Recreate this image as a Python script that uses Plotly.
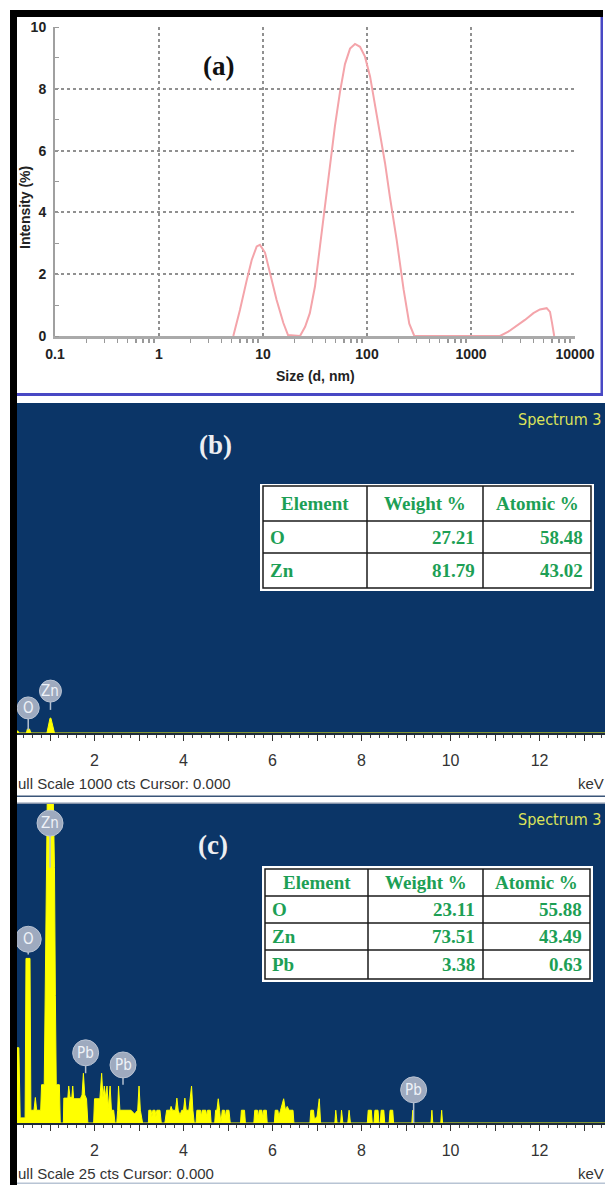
import plotly.graph_objects as go

W, H = 605, 1185

# ---------------- Panel (a): DLS size distribution ----------------
dls_size_nm = [5.18, 6.0, 6.97, 7.79, 8.7, 9.35, 10.45, 11.7, 13.5, 15.7, 17.4, 22.7,
               25.4, 28.2, 31.6, 35.3, 39.5, 44.1, 49.2, 55.0, 61.4, 68.7, 76.7, 85.7,
               95.6, 107, 119, 133, 149, 166, 193, 225, 255, 285, 1900, 2285, 2750,
               3300, 3980, 4600, 5340, 5750, 6030, 6310]
dls_intensity = [0, 0.84, 1.8, 2.46, 2.9, 2.95, 2.7, 2.04, 1.17, 0.42, 0.03, 0,
                 0.3, 0.74, 1.6, 2.9, 4.2, 5.6, 6.8, 7.9, 8.8, 9.3, 9.45, 9.36,
                 9.04, 8.4, 7.54, 6.57, 5.6, 4.5, 3.1, 1.5, 0.4, 0, 0, 0.14, 0.32,
                 0.52, 0.74, 0.86, 0.9, 0.78, 0.4, 0]
dls_xtick_vals = [0.1, 1, 10, 100, 1000, 10000]
dls_xtick_text = ["0.1", "1", "10", "100", "1000", "10000"]
dls_ytick_vals = [0, 2, 4, 6, 8, 10]

# ---------------- Panel (b): EDS spectrum, ZnO ----------------
b_kev = [0.258, 0.28, 0.30, 0.47, 0.49, 0.54, 0.57, 0.93, 1.00, 1.02, 1.10, 13.47]
b_cts = [6, 6, 0, 0, 12, 12, 0, 0, 45, 45, 0, 0]
b_badge_names = ["O", "Zn"]
b_badge_kev = [0.51, 1.01]
b_badge_cts = [76, 127]
b_stem_cts = [9, 70]
b_table_header = ["Element", "Weight %", "Atomic %"]
b_elements = ["O", "Zn"]
b_weight = ["27.21", "81.79"]
b_atomic = ["58.48", "43.02"]

# ---------------- Panel (c): EDS spectrum, Pb-doped ZnO ----------------
c_kev = [0.258, 0.30, 0.33, 0.44, 0.46, 0.55, 0.57, 0.64, 0.67, 0.70, 0.79, 0.81, 0.87,
         0.89, 0.91, 0.94, 1.07, 1.10, 1.12, 1.14, 1.21, 1.23, 1.30,
         1.31, 1.40, 1.42, 1.45, 1.49, 1.51, 1.53, 1.68, 1.72, 1.75, 1.78, 1.82, 1.85,
         1.98, 2.00, 2.12, 2.16, 2.19, 2.22, 2.25, 2.28, 2.31, 2.35, 2.38, 2.43, 2.46,
         2.50, 2.52, 2.54, 2.57, 2.82, 2.90, 2.97, 3.00, 3.03, 3.08, 3.19,
         3.21, 3.22, 3.27, 3.29, 3.31, 3.36, 3.38, 3.40, 3.47, 3.50, 3.58, 3.62, 3.70,
         3.72, 3.75, 3.82, 3.85, 3.88, 3.92, 3.96, 4.00, 4.03, 4.06, 4.12, 4.18, 4.21,
         4.24, 4.28, 4.30, 4.38, 4.40, 4.42, 4.50, 4.52, 4.54, 4.60, 4.62,
         4.70, 4.72, 4.75, 4.78, 4.81, 4.84, 4.87, 4.92, 4.94, 4.96, 5.02, 5.05,
         5.28, 5.30, 5.37, 5.39, 5.58, 5.60, 5.66, 5.68, 5.70, 5.76, 5.78, 5.80, 5.86,
         5.88, 6.04, 6.06, 6.12, 6.14, 6.18, 6.25, 6.29, 6.33, 6.37, 6.46, 6.48,
         6.84, 6.86, 6.92, 6.94, 7.00, 7.05, 7.08, 7.40, 7.42, 7.45, 7.53, 7.55, 7.58,
         7.69, 7.72, 7.75, 8.13, 8.15, 8.22, 8.24, 8.28, 8.30, 8.37, 8.39, 8.42, 8.44,
         8.50, 8.52, 8.62, 8.64, 8.70, 8.72, 9.13, 9.15, 9.17, 9.56, 9.58, 9.60, 9.78,
         9.80, 9.82, 13.47]
c_cts = [5.9, 5.9, 0.4, 0.4, 12.9, 12.9, 1.0, 1.0, 2.0, 1.0, 1.0, 3.0, 3.0,
         10.0, 20.0, 26.0, 26.0, 20.0, 10.0, 3.0, 3.0, 0, 0,
         1.95, 1.95, 2.9, 2.0, 2.0, 2.9, 1.9, 1.9, 2.2, 3.9, 2.2, 1.9, 0,
         0, 1.9, 1.9, 3.9, 2.0, 2.9, 2.0, 2.9, 1.2, 2.9, 1.0, 1.0, 0,
         0, 1.0, 2.9, 1.0, 1.0, 0.7, 1.0, 2.9, 1.0, 0, 0,
         0, 1.0, 1.0, 0.5, 1.0, 1.0, 0.5, 1.0, 1.0, 0, 0, 1.0, 1.0,
         1.3, 1.0, 1.0, 1.95, 1.0, 0.6, 1.0, 1.0, 1.95, 1.0, 1.0, 2.9, 1.0,
         0, 0, 1.0, 1.0, 0.5, 1.0, 1.0, 0.5, 1.0, 1.0, 0,
         0, 1.0, 1.0, 1.9, 1.0, 0, 1.0, 1.0, 0.4, 1.0, 1.0, 0,
         0, 1.0, 1.0, 0, 0, 1.0, 1.0, 0.4, 1.0, 1.0, 0.4, 1.0, 1.0,
         0, 0, 1.0, 1.0, 0.5, 1.0, 1.9, 1.0, 1.3, 1.0, 1.0, 0,
         0, 1.0, 1.0, 0.3, 0.5, 1.9, 0, 0, 1.0, 0, 0, 1.0, 0,
         0, 1.0, 0, 0, 1.0, 1.0, 0, 0, 1.0, 1.0, 0, 0, 1.0,
         1.0, 0, 0, 1.0, 1.0, 0, 0, 1.0, 0, 0, 1.0, 0, 0,
         1.0, 0, 0]
c_badge_names = ["Zn", "O", "Pb", "Pb", "Pb"]
c_badge_kev = [1.0, 0.51, 1.80, 2.64, 9.17]
c_badge_cts = [23.5, 14.4, 5.5, 4.55, 2.6]
c_stem_cts = [20.0, 13.2, 3.9, 3.0, 0.0]
c_table_header = ["Element", "Weight %", "Atomic %"]
c_elements = ["O", "Zn", "Pb"]
c_weight = ["23.11", "73.51", "3.38"]
c_atomic = ["55.88", "43.49", "0.63"]

kev_tick_vals = list(range(1, 14))
kev_tick_text = ["", "2", "", "4", "", "6", "", "8", "", "10", "", "12", ""]

# ---------------- styling ----------------
SANS = "Liberation Sans, Arial, sans-serif"
COND = "DejaVu Sans Condensed, Liberation Sans, sans-serif"
SERIF = "Liberation Serif, Times New Roman, serif"
NAVY = "#0b3567"
YELLOW = "#ffff00"
GREEN = "#1d9f55"


def X(p):
    return p / W


def Y(p):
    return 1 - p / H


fig = go.Figure()

fig.add_trace(go.Scatter(x=dls_size_nm, y=dls_intensity, mode="lines",
                         line=dict(color="#f4a4aa", width=2),
                         xaxis="x", yaxis="y", hoverinfo="skip"))
fig.add_trace(go.Scatter(x=b_kev, y=b_cts, mode="lines", fill="tozeroy",
                         fillcolor=YELLOW, line=dict(color=YELLOW, width=1),
                         xaxis="x2", yaxis="y2", hoverinfo="skip"))
fig.add_trace(go.Scatter(x=c_kev, y=c_cts, mode="lines", fill="tozeroy",
                         fillcolor=YELLOW, line=dict(color=YELLOW, width=1),
                         xaxis="x3", yaxis="y3", hoverinfo="skip"))

minor_log = [m * 10.0 ** k for k in range(-1, 4) for m in range(2, 10)]
grid_kw = dict(showgrid=True, gridcolor="#909090", griddash="dot", gridwidth=2)
bold14 = dict(family=SANS, size=14, color="#222222", weight="bold")

spec_x = dict(range=[0.258, 13.47], domain=[X(17), 1.0], tickvals=kev_tick_vals,
              ticktext=kev_tick_text, ticks="outside", ticklen=6, tickwidth=1,
              tickcolor="#333333", showline=True, linecolor="#1e2a3a", linewidth=1.5,
              showgrid=False, zeroline=False, automargin=False,
              tickfont=dict(family=SANS, size=16, color="#333333"),
              minor=dict(dtick=0.2, tick0=0, ticks="outside", ticklen=3,
                         tickcolor="#444444", tickwidth=1),
              ticklabelstandoff=6, fixedrange=True)

fig.update_layout(
    width=W, height=H, margin=dict(l=0, r=0, t=0, b=0, pad=0, autoexpand=False),
    autosize=False,
    paper_bgcolor="white", plot_bgcolor="rgba(0,0,0,0)", showlegend=False,
    xaxis=dict(type="log", range=[-1, 4], domain=[X(55), X(575)], anchor="y",
               tickvals=dls_xtick_vals, ticktext=dls_xtick_text, tickfont=bold14,
               ticks="", showline=True, linecolor="#aaaaaa", linewidth=3,
               zeroline=False, ticklabelstandoff=3, automargin=False,
               minor=dict(tickvals=minor_log, ticks="outside", ticklen=4,
                          tickcolor="#999999", tickwidth=1.5, showgrid=False),
               **grid_kw),
    yaxis=dict(range=[0, 10], domain=[Y(336), Y(27)], anchor="x",
               tickvals=dls_ytick_vals, tickfont=bold14, ticks="",
               showline=True, linecolor="#a0a0a0", linewidth=2, zeroline=False,
               ticklabelstandoff=4, automargin=False,
               minor=dict(dtick=1, ticks="inside", ticklen=4, tickcolor="#999999",
                          showgrid=False),
               **grid_kw),
    xaxis2=dict(anchor="y2", **spec_x),
    yaxis2=dict(range=[0, 1000], domain=[Y(733), Y(403)], anchor="x2", visible=False,
                automargin=False),
    xaxis3=dict(anchor="y3", **spec_x),
    yaxis3=dict(range=[0, 25], domain=[Y(1123), Y(804)], anchor="x3", visible=False,
                automargin=False),
)

shapes = []
ann = []


def prect(x0, y0, x1, y1, color, layer="above", line=None):
    d = dict(type="rect", xref="paper", yref="paper", x0=X(x0), x1=X(x1),
             y0=Y(y1), y1=Y(y0), fillcolor=color, layer=layer,
             line=line if line else dict(width=0))
    shapes.append(d)


def pline(x0, y0, x1, y1, color, width):
    shapes.append(dict(type="line", xref="paper", yref="paper", x0=X(x0), x1=X(x1),
                       y0=Y(y0), y1=Y(y1), line=dict(color=color, width=width)))


# panel backgrounds and frames
prect(17, 403, 605, 733, NAVY, layer="below")
prect(17, 804, 605, 1123, NAVY, layer="below")
prect(10, 10, 17, 1185, "#000000")
prect(10, 10, 603, 17, "#000000")
prect(600.5, 17, 603, 396, "#4848c4")
prect(17, 393, 603, 396, "#4848c4")
prect(17, 795.5, 605, 797, "#3a5578")
prect(17, 802.5, 605, 804, "#8593aa")
prect(17, 1182.5, 605, 1184, "#b8c4d4")


def add_table(outer, inner, col_x, row_y, header, elements, weights, atomics):
    ox0, oy0, ox1, oy1 = outer
    ix0, iy0, ix1, iy1 = inner
    prect(ox0, oy0, ox1, oy1, "white")
    shapes.append(dict(type="rect", xref="paper", yref="paper", x0=X(ix0), x1=X(ix1),
                       y0=Y(iy1), y1=Y(iy0), line=dict(color="#1a1a1a", width=1.5)))
    for cx in col_x:
        pline(cx, iy0, cx, iy1, "#1a1a1a", 1.5)
    for ry in row_y:
        pline(ix0, ry, ix1, ry, "#1a1a1a", 1.5)
    cols = [ix0] + col_x + [ix1]
    rows = [iy0] + row_y + [iy1]
    f = dict(family=SERIF, size=19, color=GREEN)
    yc = (rows[0] + rows[1]) / 2
    for i, h in enumerate(header):
        ann.append(dict(x=X((cols[i] + cols[i + 1]) / 2), y=Y(yc), text="<b>%s</b>" % h,
                        xanchor="center", yanchor="middle", font=f))
    for r, (e, wv, av) in enumerate(zip(elements, weights, atomics)):
        yc = (rows[r + 1] + rows[r + 2]) / 2
        ann.append(dict(x=X(cols[0] + 5), y=Y(yc), text="<b>%s</b>" % e,
                        xanchor="left", yanchor="middle", font=f))
        ann.append(dict(x=X(cols[2] - 6), y=Y(yc), text="<b>%s</b>" % wv,
                        xanchor="right", yanchor="middle", font=f))
        ann.append(dict(x=X(cols[3] - 6), y=Y(yc), text="<b>%s</b>" % av,
                        xanchor="right", yanchor="middle", font=f))


add_table((260, 484, 594, 591), (263, 486, 591, 588), [367, 483], [521, 553],
          b_table_header, b_elements, b_weight, b_atomic)
add_table((262, 866, 593, 982), (265, 869, 590, 979), [368, 483], [896, 923, 950],
          c_table_header, c_elements, c_weight, c_atomic)


def add_badges(xa, ya, names, kevs, cts, stems, r, fs):
    for n, k, c, s in zip(names, kevs, cts, stems):
        shapes.append(dict(type="line", xref=xa, yref=ya, x0=k, x1=k, y0=s, y1=c,
                           line=dict(color="#b4c0d0", width=1.5)))
        shapes.append(dict(type="circle", xref=xa, yref=ya, xsizemode="pixel",
                           ysizemode="pixel", xanchor=k, yanchor=c, x0=-r, x1=r,
                           y0=-r, y1=r, fillcolor="#9eaabf",
                           line=dict(color="#b9c3d3", width=1)))
        ann.append(dict(x=k, y=c, xref=xa, yref=ya, text=n, showarrow=False,
                        xanchor="center", yanchor="middle",
                        font=dict(family=COND, size=fs, color="#eef2f8")))


add_badges("x2", "y2", b_badge_names, b_badge_kev, b_badge_cts, b_stem_cts, 11, 15)
add_badges("x3", "y3", c_badge_names, c_badge_kev, c_badge_cts, c_stem_cts, 13, 15)

# texts
ann.append(dict(x=X(218), y=Y(66), text="<b>(a)</b>",
                font=dict(family=SERIF, size=27, color="#111111")))
ann.append(dict(x=X(215), y=Y(445), text="<b>(b)</b>",
                font=dict(family=SERIF, size=27, color="#eceef2")))
ann.append(dict(x=X(213), y=Y(845), text="<b>(c)</b>",
                font=dict(family=SERIF, size=27, color="#eceef2")))
ann.append(dict(x=X(315), y=Y(376), text="<b>Size (d, nm)</b>",
                font=dict(family=SANS, size=14, color="#222222")))
ann.append(dict(x=X(25), y=Y(208), text="<b>Intensity (%)</b>", textangle=-90,
                font=dict(family=SANS, size=14, color="#222222")))
for yy in (419, 819):
    ann.append(dict(x=X(603), y=Y(yy), text="Spectrum 3", xanchor="right",
                    font=dict(family=COND, size=16, color="#dde35a")))
for yy, txt in ((783, "ull Scale 1000 cts Cursor: 0.000"),
                (1173, "ull Scale 25 cts Cursor: 0.000")):
    ann.append(dict(x=X(16), y=Y(yy), text=txt, xanchor="left",
                    font=dict(family=SANS, size=15, color="#333333")))
    ann.append(dict(x=X(606), y=Y(yy), text="keV", xanchor="right",
                    font=dict(family=SANS, size=15, color="#333333")))

for a in ann:
    a.setdefault("xref", "paper")
    a.setdefault("yref", "paper")
    a.setdefault("showarrow", False)
    a.setdefault("xanchor", "center")
    a.setdefault("yanchor", "middle")

fig.update_layout(shapes=shapes, annotations=ann)
fig.write_html("out.html",
               config={"displayModeBar": False, "staticPlot": True},
               post_script="document.body.style.margin='0';"
                           "document.body.style.overflow='hidden';"
                           "document.documentElement.style.overflow='hidden';")
